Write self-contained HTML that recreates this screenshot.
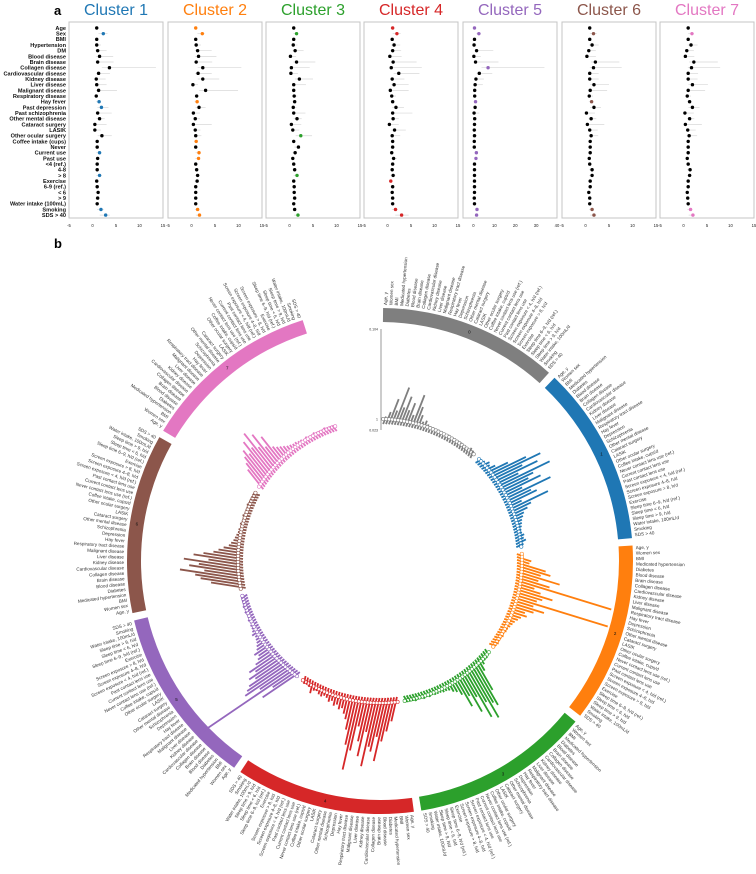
<!DOCTYPE html>
<html><head><meta charset="utf-8">
<style>
html,body{margin:0;padding:0;background:#fff;}
body{width:756px;height:874px;overflow:hidden;font-family:"Liberation Sans",sans-serif;}
svg{display:block;}
</style></head>
<body>
<svg id="fig" width="756" height="874" viewBox="0 0 756 874" xmlns="http://www.w3.org/2000/svg">
  <text x="54" y="15" font-size="13" font-weight="bold" fill="#000">a</text>
  <text x="54" y="248" font-size="13" font-weight="bold" fill="#000">b</text>
  <g id="pa"></g>
  <g id="pb"></g>
</svg>
<script>
// ---------- Panel a data ----------
const rowLabels = ["Age","Sex","BMI","Hypertension","DM","Blood disease","Brain disease","Collagen disease","Cardiovascular disease","Kidney disease","Liver disease","Malignant disease","Respiratory disease","Hay fever","Past depression","Past schizophrenia","Other mental disease","Cataract surgery","LASIK","Other ocular surgery","Coffee intake (cups)","Never","Current use","Past use","<4 (ref.)","4-8","> 8","Exercise","6-9 (ref.)","< 6","> 9","Water intake (100mL)","Smoking","SDS > 40"];
const clusterNames = ["Cluster 1","Cluster 2","Cluster 3","Cluster 4","Cluster 5","Cluster 6","Cluster 7"];
const clusterColors = ["#1f77b4","#ff7f0e","#2ca02c","#d62728","#9467bd","#8c564b","#e377c2"];
const c1Or = [0.9,2.3,0.9,0.9,1.1,1.5,1.1,3.6,1.3,0.8,0.9,1.3,0.8,1.4,1.9,1.1,1.5,0.5,0.5,2.0,1.0,1.0,1.5,1.1,1.0,1.0,1.5,0.9,1.0,1.2,1.1,1.0,1.8,2.8];
const c1Hi = [1.0,3.2,1.1,1.8,3.0,4.4,4.5,13.5,3.7,2.8,3.0,5.2,1.1,1.8,3.4,4.1,2.6,3.0,1.8,4.1,1.1,1.1,1.9,1.4,1.1,1.2,2.0,1.0,1.1,1.4,1.3,1.1,2.4,3.7];
const c1Sig = [1,13,14,22,26,32,33];
const c2Or = [0.9,2.3,0.9,1.0,1.3,1.5,1.0,2.4,1.4,2.4,0.3,3.0,1.1,1.2,1.6,0.4,0.8,0.4,0.8,0.9,1.0,0.9,1.6,1.5,0.9,1.1,1.3,1.2,0.9,0.9,0.9,0.9,1.3,1.7];
const c2Hi = [1.0,2.8,1.1,2.0,4.3,5.3,4.4,10.6,4.3,5.9,1.4,9.9,1.4,1.5,3.0,1.8,1.8,4.3,1.9,2.1,1.1,1.0,1.9,1.8,1.0,1.3,1.8,1.3,1.0,1.0,1.0,1.0,1.7,2.1];
const c2Sig = [0,1,13,20,22,23,32,33];
const c3Or = [0.9,1.5,0.9,0.8,1.2,0.2,1.5,0.4,0.3,2.1,0.9,0.9,1.0,1.1,0.8,0.9,1.6,0.4,0.7,2.4,0.9,1.9,1.2,0.7,0.9,1.1,1.6,0.9,1.0,1.0,1.1,0.9,1.1,1.8];
const c3Hi = [1.0,1.8,1.1,1.7,3.0,1.4,5.5,4.3,1.8,5.0,3.5,1.2,1.7,1.3,1.5,3.4,2.6,2.5,2.1,4.8,1.0,2.1,1.4,0.9,1.0,1.3,2.0,1.0,1.1,1.2,1.3,1.0,1.3,2.2];
const c3Sig = [1,19,26,33];
const c4Or = [1.1,2.0,1.0,1.4,1.1,0.5,1.2,0.8,2.4,1.0,1.4,0.6,0.9,1.1,1.8,1.1,1.2,0.4,1.5,1.0,1.1,1.1,0.9,1.3,1.1,1.0,1.2,0.7,1.1,1.0,1.1,1.1,1.7,3.0];
const c4Hi = [1.2,2.8,1.1,2.7,2.9,3.0,6.2,7.3,6.8,3.6,4.5,4.5,1.8,1.4,3.5,5.3,2.4,2.4,3.9,2.7,1.2,1.2,1.1,2.0,1.2,1.2,1.7,0.9,1.2,1.2,1.4,1.2,2.2,4.5];
const c4Sig = [0,1,27,32,33];
const c5Or = [0.5,2.6,0.5,0.3,1.5,0.2,1.0,7.0,2.8,1.2,0.8,0.6,0.6,1.0,0.8,0.3,0.6,0.5,0.4,0.5,0.4,0.4,1.4,1.2,0.5,0.5,0.5,0.5,0.5,0.5,0.4,0.5,1.7,1.5];
const c5Hi = [0.7,3.5,0.7,1.5,9.5,3.5,12.0,34.0,9.0,5.0,4.5,1.0,0.9,1.2,1.5,2.8,1.2,1.5,1.5,1.7,0.6,0.6,1.6,1.4,0.6,0.7,0.7,0.6,0.6,0.7,0.6,0.6,2.0,1.8];
const c5Sig = [0,1,7,13,22,23,32,33];
const c6Or = [0.9,1.7,0.9,1.4,0.7,0.3,2.1,1.7,0.9,0.9,1.8,1.0,0.8,1.3,1.8,0.2,1.2,0.4,0.9,1.2,1.0,1.0,1.0,0.8,0.9,1.4,1.4,1.0,1.0,0.7,0.9,0.9,1.4,1.8];
const c6Hi = [1.0,2.4,1.1,2.8,2.2,2.2,7.2,7.7,2.8,2.8,5.0,4.6,1.6,1.6,3.3,2.0,2.3,4.0,2.6,2.7,1.1,1.1,1.2,1.0,1.0,1.7,1.8,1.1,1.1,0.9,1.1,1.0,1.8,2.3];
const c6Sig = [1,13,32,33];
const c7Or = [1.0,1.8,1.0,1.6,0.7,0.4,2.2,1.7,1.0,1.0,1.9,1.0,0.8,1.3,1.9,0.3,1.3,0.4,0.9,1.2,1.0,1.0,1.0,0.8,1.0,1.4,1.3,1.0,1.0,0.8,0.9,1.0,1.5,2.0];
const c7Hi = [1.1,2.2,1.1,3.0,2.2,2.3,7.3,7.8,3.1,3.0,5.2,4.6,1.6,1.7,3.4,2.2,2.3,3.9,2.6,2.9,1.1,1.1,1.2,1.0,1.1,1.7,1.8,1.1,1.1,1.0,1.1,1.1,1.9,2.4];
const c7Sig = [1,32,33];
const axisMin = [-5,-5,-5,-5,-5,-5,-5];
const axisMax = [15,15,15,15,40,15,15];
const tickSets = [[-5,0,5,10,15],[-5,0,5,10,15],[-5,0,5,10,15],[-5,0,5,10,15],[0,10,20,30,40],[-5,0,5,10,15],[-5,0,5,10,15]];

// ---------- Panel b data ----------
const ringLabels = ["Age, y","Women sex","BMI","Medicated hypertension","Diabetes","Blood disease","Brain disease","Collagen disease","Cardiovascular disease","Kidney disease","Liver disease","Malignant disease","Respiratory tract disease","Hay fever","Depression","Schizophrenia","Other mental disease","Cataract surgery","LASIK","Other ocular surgery","Coffee intake, cups/d","Never contact lens use (ref.)","Current contact lens use","Past contact lens use","Screen exposure < 4, h/d (ref.)","Screen exposure 4–8, h/d","Screen exposure > 8, h/d","Exercise","Sleep time 6–9, h/d (ref.)","Sleep time < 6, h/d","Sleep time > 9, h/d","Water intake, 100mL/d","Smoking","SDS > 40"];
const segmentIds = ["0","1","2","3","4","5","6","7"];
const segmentColors = ["#7f7f7f","#1f77b4","#ff7f0e","#2ca02c","#d62728","#9467bd","#8c564b","#e377c2"];
const ring0 = [3,8,22,10,35,14,26,12,20,8,30,18,10,4,6,3,2,2,1,2,1,1,1,2,1,1,1,1,2,1,1,1,4,3];
const ring1 = [2,3,6,4,8,20,38,52,30,45,22,55,35,28,40,18,48,25,30,12,40,20,15,10,8,6,5,4,3,3,5,4,6,3];
const ring2 = [2,10,8,25,30,20,40,18,30,95,15,22,35,25,20,95,18,30,20,12,15,10,8,6,5,4,3,3,2,3,2,2,3,2];
const ring3 = [2,3,3,5,10,30,45,40,55,35,50,25,40,20,30,15,10,8,5,4,4,3,3,3,2,3,2,3,2,2,3,2,2,2];
const ring4 = [20,30,40,60,35,50,45,65,30,55,40,25,50,70,45,30,20,15,10,12,8,10,6,8,5,4,6,5,3,4,8,3,2,3];
const ring5 = [40,25,110,35,50,45,40,30,35,25,30,20,15,12,15,10,8,6,5,4,6,4,3,3,2,3,2,2,3,2,3,2,2,2];
const ring6 = [30,40,45,60,35,50,40,55,30,45,35,25,20,15,10,8,6,5,4,3,3,2,3,2,2,3,2,2,2,3,2,2,2,2];
const ring7 = [20,25,30,35,28,40,30,45,25,38,20,30,15,12,10,8,6,5,4,4,3,3,2,3,2,2,3,2,2,2,3,2,2,2];
const axisTickLabels = ["0.104","1","0.023"];

const NS = "http://www.w3.org/2000/svg";
function mk(tag, attrs, parent){ const e=document.createElementNS(NS,tag); for(const k in attrs) e.setAttribute(k,attrs[k]); parent.appendChild(e); return e; }

// ---------- Draw panel a ----------
(function(){
  const pa = document.getElementById('pa');
  const ors=[c1Or,c2Or,c3Or,c4Or,c5Or,c6Or,c7Or];
  const his=[c1Hi,c2Hi,c3Hi,c4Hi,c5Hi,c6Hi,c7Hi];
  const sigs=[c1Sig,c2Sig,c3Sig,c4Sig,c5Sig,c6Sig,c7Sig];
  const lefts=[69,168,266,364,463,562,660];
  const W=94, top=22, bot=218, row0=28, rowStep=5.67;
  const rowY = i => row0 + i*rowStep;
  rowLabels.forEach((t,i)=>{
    const e=mk('text',{x:66,y:rowY(i)+1.9,'font-size':5.6,'font-weight':'bold','text-anchor':'end',fill:'#111'},pa);
    e.textContent=t;
    
    
  });
  for(let c=0;c<7;c++){
    const L=lefts[c];
    const xs = v => L + (v-axisMin[c])/(axisMax[c]-axisMin[c])*W;
    const g=mk('g',{},pa);
    
    
    const title=mk('text',{x:L+W/2,y:15,'font-size':16,'text-anchor':'middle',fill:clusterColors[c]},g);
    title.textContent=clusterNames[c];
    
    
    const box=mk('rect',{x:L,y:top,width:W,height:bot-top,fill:'none',stroke:'#c4c4c4','stroke-width':1},g);
    
    
    tickSets[c].forEach(t=>{
      const tl=mk('text',{x:xs(t),y:227,'font-size':4.2,'text-anchor':'middle',fill:'#222'},g);
      tl.textContent=String(t);
      
      
    });
    for(let i=0;i<34;i++){
      const y=rowY(i);
      const sig=sigs[c].includes(i);
      const col=sig?clusterColors[c]:'#000';
      const w=mk('line',{x1:xs(ors[c][i]*0.55),x2:xs(his[c][i]),y1:y,y2:y,stroke:'#d8d8d8','stroke-width':0.7},g);
      
      
      const d=mk('circle',{cx:xs(ors[c][i]),cy:y,r:1.7,fill:col},g);
      
      
    }
  }
})();

// ---------- Draw panel b ----------
(function(){
  const pb=document.getElementById('pb');
  const cx=380, cy=561, Rout=253, Rin=239, Rbase=142;
  const rings=[ring0,ring1,ring2,ring3,ring4,ring5,ring6,ring7];
  const segStart=0.7, segPeriod=42.9, segSpan=41.2;
  const rad = a => a*Math.PI/180;
  const pt = (a,r) => [cx + r*Math.sin(rad(a)), cy - r*Math.cos(rad(a))];
  for(let s=0;s<8;s++){
    const a0=segStart+s*segPeriod, a1=a0+segSpan;
    const col=segmentColors[s];
    const g=mk('g',{},pb);
    
    
    const p1=pt(a0,Rout),p2=pt(a1,Rout),p3=pt(a1,Rin),p4=pt(a0,Rin);
    const band=mk('path',{d:`M${p1} A${Rout},${Rout} 0 0 1 ${p2} L${p3} A${Rin},${Rin} 0 0 0 ${p4} Z`,fill:col},g);
    
    
    const am=(a0+a1)/2, pm=pt(am,(Rout+Rin)/2);
    const num=mk('text',{x:pm[0],y:pm[1]+1.5,'font-size':4.5,'text-anchor':'middle',fill:'#111'},g);
    num.textContent=segmentIds[s];
    
    
    const n=ringLabels.length, step=segSpan/n;
    const bp0=pt(a0+step/2,Rbase), bp1=pt(a1-step/2,Rbase);
    const base=mk('path',{d:`M${bp0} A${Rbase},${Rbase} 0 0 1 ${bp1}`,fill:'none',stroke:col,'stroke-width':0.6,opacity:0.6},g);
    
    
    for(let i=0;i<n;i++){
      const a=a0+step*(i+0.5);
      const lp=pt(a,Rout+3);
      const right=a<180;
      const rot=right?a-90:a+90;
      const t=mk('text',{x:lp[0],y:lp[1],'font-size':4.6,fill:'#333','text-anchor':right?'start':'end','dominant-baseline':'middle',transform:`rotate(${rot} ${lp[0]} ${lp[1]})`},g);
      t.textContent=ringLabels[i];
      
      
      const v=rings[s][i];
      const b0=pt(a,Rbase-5), b1x=b0[0]+(v+5)*Math.sin(rad(am)), b1y=b0[1]-(v+5)*Math.cos(rad(am));
      const bar=mk('line',{x1:b0[0],y1:b0[1],x2:b1x,y2:b1y,stroke:col,'stroke-width':1.8},g);
      
      
      const cp=pt(a,Rbase);
      const c=mk('circle',{cx:cp[0],cy:cp[1],r:1.7,fill:'#fff',stroke:col,'stroke-width':0.6},g);
      
      
    }
  }
  const ax=mk('g',{},pb);
  
  
  mk('line',{x1:381,y1:329,x2:381,y2:430,stroke:'#555','stroke-width':0.6},ax);
  const tys=[329,419,430];
  axisTickLabels.forEach((lab,k)=>{
    const t=mk('text',{x:378,y:tys[k]+1.3,'font-size':3.5,'text-anchor':'end',fill:'#333'},ax);
    t.textContent=lab;
    
    
  });
})();
</script>
</body></html>
